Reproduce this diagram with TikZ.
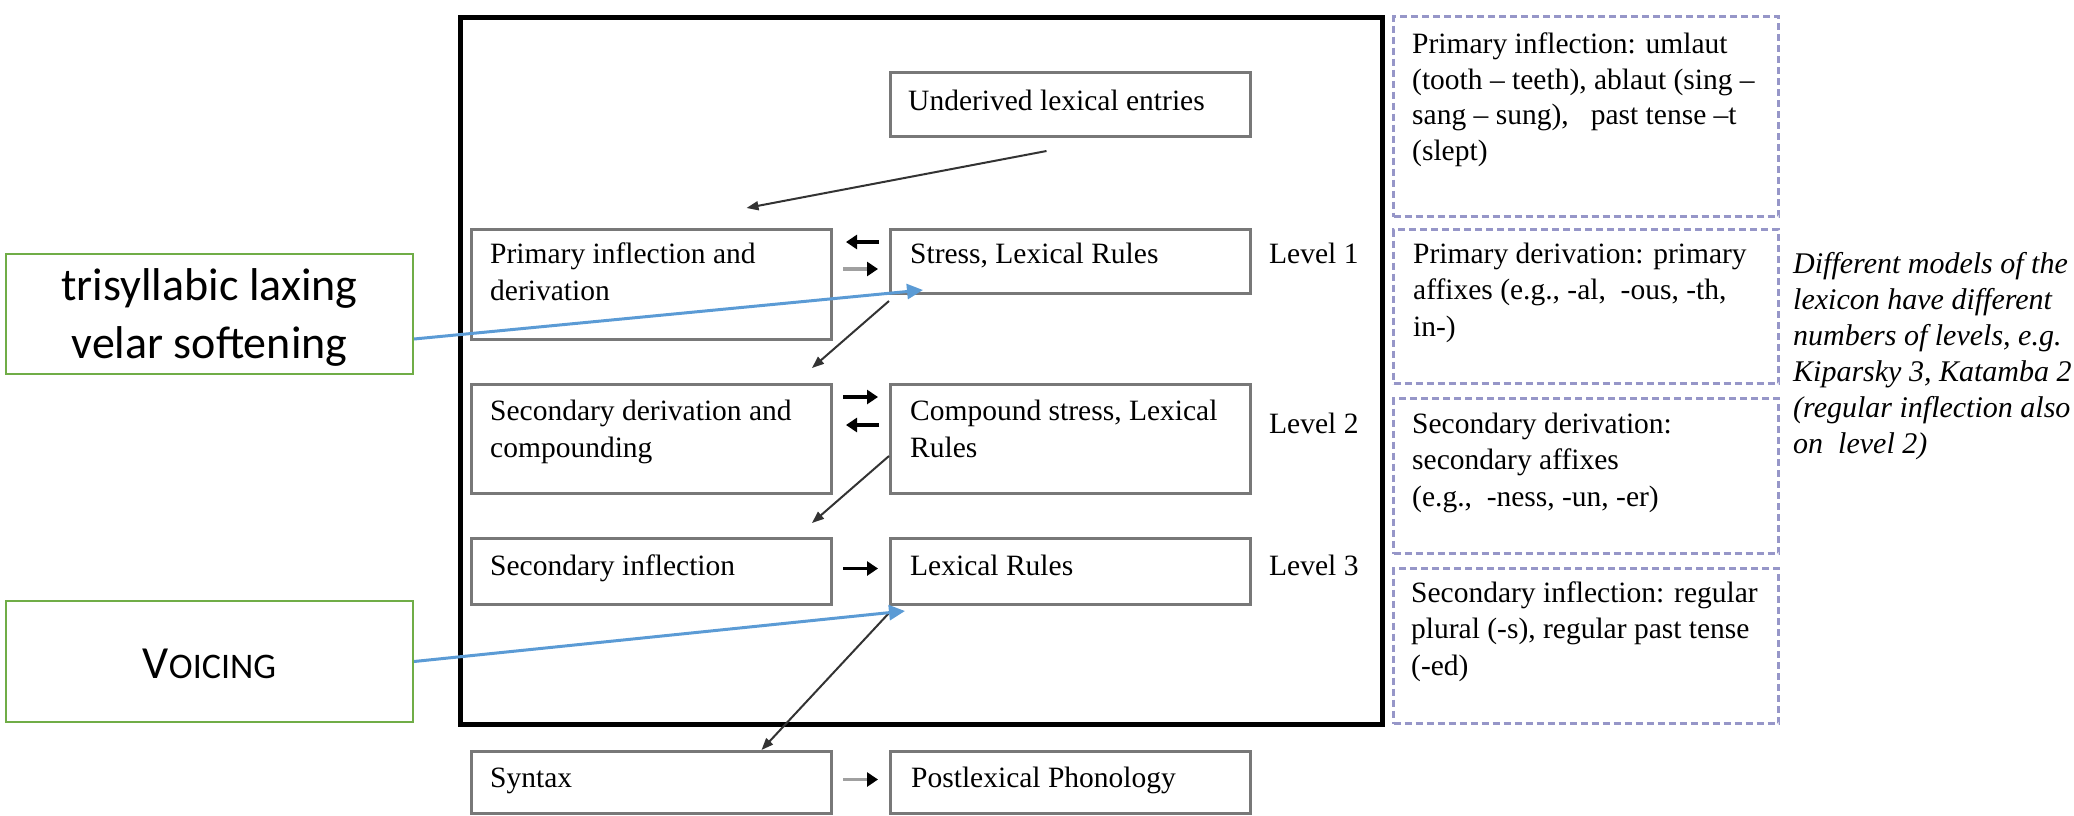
\documentclass[tikz,border=0pt]{standalone}
\usepackage{fontspec}
\setmainfont{Liberation Serif}
\newfontfamily\calib{Carlito}
\usetikzlibrary{arrows.meta,calc}
\definecolor{boxgray}{RGB}{120,120,120}
\definecolor{dashc}{RGB}{150,150,200}
\definecolor{greenb}{RGB}{112,173,71}
\definecolor{blueln}{RGB}{91,155,213}
\definecolor{graya}{RGB}{160,160,160}
\begin{document}
\begin{tikzpicture}[x=1pt,y=-1pt,
  lbox/.style={draw=boxgray, line width=3pt, anchor=north west, inner sep=0pt, minimum width=360pt},
  dbox/.style={draw=dashc, line width=3pt, dash pattern=on 7pt off 4pt, anchor=north west, inner sep=0pt, minimum width=385pt},
  gbox/.style={draw=greenb, line width=2pt, anchor=north west, inner sep=0pt, minimum width=407pt, minimum height=120pt},
  gtxt/.style={inner sep=0pt, align=center, font=\calib\fontsize{46}{58}\selectfont},
  ltxt/.style={anchor=base west, inner sep=0pt, align=left, font=\fontsize{29.5}{37}\selectfont},
  rtxt/.style={anchor=base west, inner sep=0pt, align=left, font=\fontsize{29.5}{36.5}\selectfont},
  itxt/.style={anchor=base west, inner sep=0pt, align=left, font=\itshape\fontsize{30}{36}\selectfont},
  thinarr/.style={draw=black!80, line width=2pt, -{Triangle[length=12pt,width=9pt]}},
  harr/.style={draw=black, line width=3.5pt, -{Triangle[length=11pt,width=14pt]}},
  garr/.style={draw=graya, line width=3.5pt, -{Triangle[length=11pt,width=14pt,color=black,fill=black]}},
  bluearr/.style={draw=blueln, line width=3pt, -{Triangle[length=16pt,width=15pt]}}
]
\useasboundingbox (0,0) rectangle (2074,815);

% outer lexicon frame
\node[draw=black, line width=4.5pt, anchor=north west, inner sep=0pt, minimum width=922pt, minimum height=707pt] (lex) at (458,15) {};

% boxes
\node[lbox, minimum height=64pt]  (und)    at (889,71)  {};
\node[lbox, minimum height=110pt] (prim)   at (470,228) {};
\node[lbox, minimum height=64pt]  (stress) at (889,228) {};
\node[lbox, minimum height=109pt] (secder) at (470,383) {};
\node[lbox, minimum height=109pt] (comp)   at (889,383) {};
\node[lbox, minimum height=66pt]  (secinf) at (470,537) {};
\node[lbox, minimum height=66pt]  (lexr)   at (889,537) {};
\node[lbox, minimum height=62pt]  (syn)    at (470,750) {};
\node[lbox, minimum height=62pt]  (post)   at (889,750) {};

% box texts (base = baseline of last line)
\node[ltxt] (tund) at (908,110) {Underived lexical entries};
\node[ltxt] (tprim) at (490,300) {Primary inflection and\\derivation};
\node[ltxt] (tstress) at (910,263) {Stress, Lexical Rules};
\node[ltxt] (tsecder) at (490,457) {Secondary derivation and\\compounding};
\node[ltxt] (tcomp) at (910,457) {Compound stress, Lexical\\Rules};
\node[ltxt] (tsecinf) at (490,575) {Secondary inflection};
\node[ltxt] (tlexr) at (910,575) {Lexical Rules};
\node[ltxt] (tsyn) at (490,787) {Syntax};
\node[ltxt] (tpost) at (911,787) {Postlexical Phonology};

% level labels
\node[ltxt] (lv1) at (1269,263) {Level 1};
\node[ltxt] (lv2) at (1269,433) {Level 2};
\node[ltxt] (lv3) at (1269,575) {Level 3};

% dashed boxes
\node[dbox, minimum height=200pt] (d1) at (1392,15)  {};
\node[dbox, minimum height=154pt] (d2) at (1392,228) {};
\node[dbox, minimum height=155pt] (d3) at (1392,397) {};
\node[dbox, minimum height=155pt] (d4) at (1392,567) {};

\node[rtxt, font=\fontsize{29.5}{35.5}\selectfont] (td1) at (1412,160) {Primary inflection: umlaut\\(tooth – teeth), ablaut (sing –\\sang – sung), \ \ past tense –t\\(slept)};
\node[rtxt] (td2) at (1413,336) {Primary derivation: primary\\affixes (e.g., -al, \ -ous, -th,\\in-)};
\node[rtxt] (td3) at (1412,506) {Secondary derivation:\\secondary affixes\\(e.g., \ -ness, -un, -er)};
\node[rtxt] (td4) at (1411,675) {Secondary inflection: regular\\plural (-s), regular past tense\\(-ed)};

\node[itxt] (note) at (1793,453) {Different models of the\\lexicon have different\\numbers of levels, e.g.\\Kiparsky 3, Katamba 2\\(regular inflection also\\on \ level 2)};

% green callouts
\node[gbox] (g1) at (5,253) {};
\node[gtxt] (tg1) at ($(g1.center)+(0,3)$) {trisyllabic laxing\\velar softening};
\node[gbox, minimum height=121pt] (g2) at (5,600) {};
\node[gtxt] (tg2) at ($(g2.center)+(0,2)$) {{\fontsize{46}{58}\selectfont V}{\fontsize{36}{58}\selectfont OICING}};

% diagonal flow arrows
\draw[thinarr] ($(und.south)+(-24,13)$) -- ($(prim.north)+(95,-20)$);
\draw[thinarr] ($(stress.south west)+(0,6)$) -- ($(secder.north east)+(-21,-15)$);
\draw[thinarr] ($(comp.west)+(0,17)$) -- ($(secinf.north east)+(-21,-14)$);
\draw[thinarr] ($(lexr.south west)+(0,7)$) -- ($(syn.north)+(110,0)$);

% short horizontal arrows
\draw[harr, shorten <=10pt, shorten >=13pt] ($(stress.north west)+(0,14)$) -- ($(prim.north east)+(0,14)$);
\draw[garr, shorten <=10pt, shorten >=11pt] ($(prim.north east)+(0,41)$) -- ($(stress.north west)+(0,41)$);
\draw[harr, shorten <=10pt, shorten >=11pt] ($(secder.north east)+(0,14)$) -- ($(comp.north west)+(0,14)$);
\draw[harr, shorten <=10pt, shorten >=13pt] ($(comp.north west)+(0,42)$) -- ($(secder.north east)+(0,42)$);
\draw[harr, shorten <=10pt, shorten >=11pt] ($(secinf.east)+(0,-3)$) -- ($(lexr.west)+(0,-3)$);
\draw[garr, shorten <=10pt, shorten >=11pt] ($(syn.east)+(0,-3)$) -- ($(post.west)+(0,-3)$);

% blue callout arrows
\draw[bluearr] ($(g1.east)+(0,25)$) -- ($(stress.south west)+(34,-5)$);
\draw[bluearr] (g2.east) -- ($(lexr.south west)+(16,5)$);
\end{tikzpicture}
\end{document}
